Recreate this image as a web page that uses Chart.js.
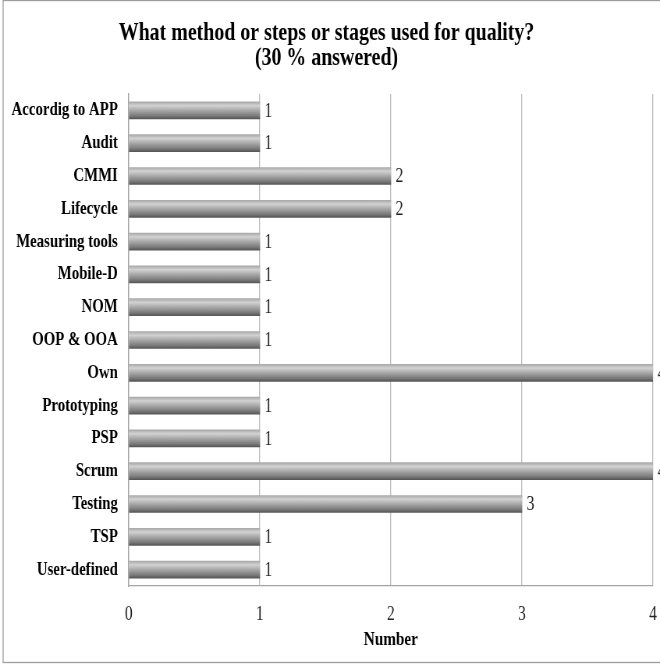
<!DOCTYPE html>
<html>
<head>
<meta charset="utf-8">
<script src="https://cdn.jsdelivr.net/npm/chart.js@4.4.1/dist/chart.umd.min.js"></script>
<style>
  html, body { margin: 0; padding: 0; background: #ffffff; overflow: hidden; }
  /* The bitmap is wider than its box, so all text comes out in a condensed face */
  #chart { display: block; width: 660px; height: 664px; }
</style>
</head>
<body>
<canvas id="chart" width="846" height="664" style="width:660px;height:664px"></canvas>
<script>
// Survey answers: method, steps or stages used for quality
const categories = [
  'Accordig to APP', 'Audit', 'CMMI', 'Lifecycle', 'Measuring tools',
  'Mobile-D', 'NOM', 'OOP & OOA', 'Own', 'Prototyping',
  'PSP', 'Scrum', 'Testing', 'TSP', 'User-defined'
];
const counts = [1, 1, 2, 2, 1, 1, 1, 1, 4, 1, 1, 4, 3, 1, 1];
const xTicks = [0, 1, 2, 3, 4];
const titleLines = ['What method or steps or stages used for quality?', '(30 % answered)'];
const axisTitle = 'Number';

const SERIF = "'Liberation Serif', 'Times New Roman', serif";
const BAR_HALF = 8.5;

// Cylinder-like shading for each bar, computed from its own band on the category axis
function barGradient(context) {
  const chart = context.chart;
  const yScale = chart.scales && chart.scales.y;
  if (!chart.chartArea || !yScale || context.dataIndex === undefined) return '#a0a0a0';
  const c = yScale.getPixelForValue(context.dataIndex);
  const g = chart.ctx.createLinearGradient(0, c - BAR_HALF, 0, c + BAR_HALF);
  g.addColorStop(0, '#a9a9a9');
  g.addColorStop(0.22, '#d2d2d2');
  g.addColorStop(0.5, '#a8a8a8');
  g.addColorStop(0.82, '#7a7a7a');
  g.addColorStop(1, '#565656');
  return g;
}

// White page with the thin frame around the chart
const framePlugin = {
  id: 'frame',
  beforeDraw(chart) {
    const ctx = chart.ctx;
    ctx.save();
    ctx.fillStyle = '#ffffff';
    ctx.fillRect(0, 0, chart.width, chart.height);
    ctx.restore();
  },
  afterDraw(chart) {
    const ctx = chart.ctx;
    ctx.save();
    ctx.strokeStyle = '#9c9c9c';
    ctx.lineWidth = 1.3;
    ctx.strokeRect(4, 0.5, chart.width + 40, chart.height - 2);
    ctx.restore();
  }
};

// Count written just past the end of each bar
const valueLabelPlugin = {
  id: 'valueLabels',
  afterDatasetsDraw(chart) {
    const ctx = chart.ctx;
    const meta = chart.getDatasetMeta(0);
    ctx.save();
    ctx.font = '20px ' + SERIF;
    ctx.fillStyle = '#222222';
    ctx.textAlign = 'left';
    ctx.textBaseline = 'middle';
    meta.data.forEach((bar, i) => {
      ctx.fillText(String(counts[i]), bar.x + 6, bar.y + 1);
    });
    ctx.restore();
  }
};

new Chart(document.getElementById('chart'), {
  type: 'bar',
  data: {
    labels: categories,
    datasets: [{
      data: counts,
      backgroundColor: barGradient,
      borderWidth: 0,
      barThickness: 17
    }]
  },
  options: {
    indexAxis: 'y',
    responsive: false,
    animation: false,
    devicePixelRatio: 1,
    layout: { padding: { top: 0, left: 0, right: 9, bottom: 0 } },
    plugins: {
      legend: { display: false },
      tooltip: { enabled: false },
      title: {
        display: true,
        text: titleLines,
        color: '#000000',
        font: { family: SERIF, size: 25.5, weight: 'bold', lineHeight: 25 / 25.5 },
        padding: { top: 20.5, bottom: 23.5 }
      }
    },
    scales: {
      x: {
        type: 'linear',
        min: xTicks[0],
        max: xTicks[xTicks.length - 1],
        afterBuildTicks(scale) {
          scale.ticks = xTicks.map(v => ({ value: v }));
        },
        afterFit(scale) {
          scale.height = 78;
          scale.paddingLeft = 0;
          scale.paddingRight = 0;
        },
        ticks: {
          color: '#222222',
          font: { family: SERIF, size: 20 },
          padding: 17,
          maxRotation: 0
        },
        grid: { color: '#bdbdbd', lineWidth: 1.3, drawTicks: false },
        border: { display: true, color: '#a4a4a4', width: 1.3 },
        title: {
          display: true,
          text: axisTitle,
          color: '#000000',
          font: { family: SERIF, size: 19.5, weight: 'bold' },
          padding: { top: 0, bottom: 12.3 }
        }
      },
      y: {
        afterFit(scale) {
          scale.width = 165;
          scale.paddingTop = 0;
          scale.paddingBottom = 0;
        },
        ticks: {
          color: '#000000',
          font: { family: SERIF, size: 19, weight: 'bold' },
          padding: 14,
          autoSkip: false
        },
        grid: { display: false, drawTicks: false },
        border: { display: true, color: '#a4a4a4', width: 1.3 }
      }
    }
  },
  plugins: [framePlugin, valueLabelPlugin]
});
</script>
</body>
</html>
